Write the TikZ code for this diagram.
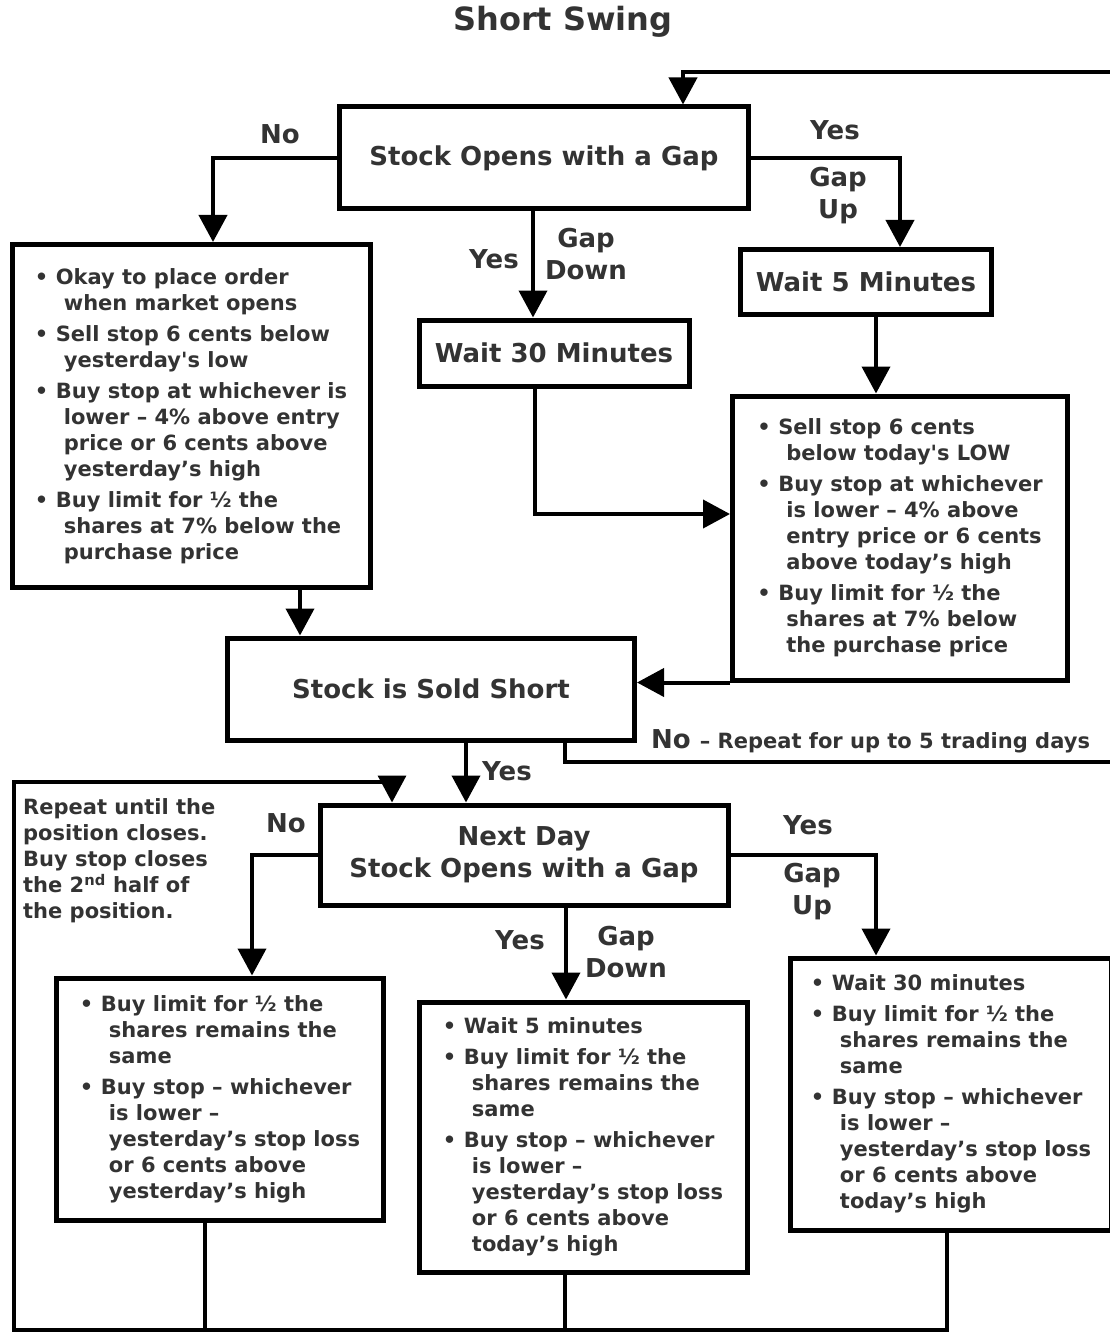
\documentclass[tikz,border=0pt]{standalone}
\usepackage{fontspec}
\setmainfont{DejaVu Sans}
\usepackage{xcolor}
\usetikzlibrary{arrows.meta,calc}

\definecolor{txtgray}{HTML}{333333}
\newcommand{\bpt}{\makebox[21pt][l]{\textbullet}}
\newcommand{\bcont}{\hspace*{29pt}}

\begin{document}
\begin{tikzpicture}[x=1pt,y=-1pt,
    every node/.style={text=txtgray, font=\bfseries},
    box/.style={draw=black, line width=5pt, inner sep=0pt, align=center,
      font=\fontsize{26}{32}\selectfont\bfseries},
    listbox/.style={draw=black, line width=5pt, inner sep=0pt, align=left,
      font=\fontsize{21}{26}\selectfont\bfseries},
    lbl/.style={align=center, font=\fontsize{26}{32}\selectfont\bfseries},
    arr/.style={line width=4pt, -{Triangle[length=27pt,width=28pt]}},
    con/.style={line width=4pt}]
    \useasboundingbox (0,0) rectangle (1109,1332);

    \node[font=\fontsize{32}{38}\selectfont\bfseries] (title) at (563,22) {Short Swing};

    % first day
    \node[box, minimum width=409pt, minimum height=102pt] (gap1) at (544,158) {Stock Opens with a Gap};
    \node[listbox, minimum width=358pt, minimum height=343pt] (nogap1) at (191,416)
      {\bpt Okay to place order\\ \bcont when market opens\\[5pt]
       \bpt Sell stop 6 cents below\\ \bcont yesterday\textquotesingle s low\\[5pt]
       \bpt Buy stop at whichever is\\ \bcont lower -- 4\% above entry\\
       \bcont price or 6 cents above\\ \bcont yesterday's high\\[5pt]
       \bpt Buy limit for ½ the\\ \bcont shares at 7\% below the\\ \bcont purchase price};
    \node[box, minimum width=270pt, minimum height=66pt] (wait30) at (554,353) {Wait 30 Minutes};
    \node[box, minimum width=251pt, minimum height=65pt] (wait5) at (866,282) {Wait 5 Minutes};
    \node[listbox, minimum width=335pt, minimum height=284pt] (upbox1) at (900,538)
      {\bpt Sell stop 6 cents\\ \bcont below today\textquotesingle s LOW\\[5pt]
       \bpt Buy stop at whichever\\ \bcont is lower -- 4\% above\\
       \bcont entry price or 6 cents\\ \bcont above today's high\\[5pt]
       \bpt Buy limit for ½ the\\ \bcont shares at 7\% below\\ \bcont the purchase price};
    \node[box, minimum width=407pt, minimum height=102pt] (sold) at (431,689) {Stock is Sold Short};

    % next day
    \node[box, minimum width=408pt, minimum height=100pt] (gap2) at (524,855) {Next Day\\Stock Opens with a Gap};
    \node[listbox, minimum width=327pt, minimum height=242pt] (nogap2) at (220,1099)
      {\bpt Buy limit for ½ the\\ \bcont shares remains the\\ \bcont same\\[5pt]
       \bpt Buy stop -- whichever\\ \bcont is lower --\\ \bcont yesterday's stop loss\\
       \bcont or 6 cents above\\ \bcont yesterday's high};
    \node[listbox, minimum width=328pt, minimum height=270pt] (down2) at (583,1137)
      {\bpt Wait 5 minutes\\[5pt]
       \bpt Buy limit for ½ the\\ \bcont shares remains the\\ \bcont same\\[5pt]
       \bpt Buy stop -- whichever\\ \bcont is lower --\\ \bcont yesterday's stop loss\\
       \bcont or 6 cents above\\ \bcont today's high};
    \node[listbox, minimum width=321pt, minimum height=272pt] (up2) at (951,1094)
      {\bpt Wait 30 minutes\\[5pt]
       \bpt Buy limit for ½ the\\ \bcont shares remains the\\ \bcont same\\[5pt]
       \bpt Buy stop -- whichever\\ \bcont is lower --\\ \bcont yesterday's stop loss\\
       \bcont or 6 cents above\\ \bcont today's high};

    \node[anchor=west, align=left, inner sep=0pt, font=\fontsize{21}{26}\selectfont\bfseries] (note) at (23,861)
      {Repeat until the\\position closes.\\Buy stop closes\\the 2\textsuperscript{nd} half of\\the position.};

    % labels
    \node[lbl] (no1) at (280,134) {No};
    \node[lbl] (yes1) at (835,130) {Yes};
    \node[lbl] (up1) at (838,196) {Gap\\Up};
    \node[lbl] (yes2) at (494,259) {Yes};
    \node[lbl] (dn1) at (586,254) {Gap\\Down};
    \node[lbl] (yes3) at (507,771) {Yes};
    \node[lbl] (no2) at (286,823) {No};
    \node[lbl] (yes4) at (808,825) {Yes};
    \node[lbl] (up2lbl) at (812,892) {Gap\\Up};
    \node[lbl] (yes5) at (520,940) {Yes};
    \node[lbl] (dn2) at (626,952) {Gap\\Down};
    \node[anchor=west, inner sep=0pt] (norepeat) at (651,741)
      {\fontsize{26}{32}\selectfont No \fontsize{21}{26}\selectfont -- Repeat for up to 5 trading days};

    \coordinate (topR) at (1112,72);
    \coordinate (noR) at (1112,762);
    \coordinate (loopBL) at (14,1330);
    \coordinate (loopTL) at (14,782);

    % connectors
    \draw[arr] (topR) -| ([xshift=139pt]gap1.north);
    \draw[arr] (gap1.west) -| ([xshift=22pt]nogap1.north);
    \draw[arr] (gap1.east) -| ([xshift=34pt]wait5.north);
    \draw[arr] ([xshift=-11pt]gap1.south) -- ([xshift=-11pt]gap1.south |- wait30.north);
    \draw[arr] ([xshift=-19pt]wait30.south) |- ([yshift=24pt]upbox1.west);
    \draw[arr] ([xshift=10pt]wait5.south) -- ([xshift=10pt]wait5.south |- upbox1.north);
    \draw[arr] (upbox1.south west) -- (upbox1.south west -| sold.east);
    \draw[arr] ([xshift=109pt]nogap1.south) -- ([xshift=109pt]nogap1.south |- sold.north);
    \draw[arr] ([xshift=35pt]sold.south) -- ([xshift=35pt]sold.south |- gap2.north);
    \draw[con] ([xshift=134pt]sold.south) |- (noR);
    \draw[arr] (gap2.west) -| ([xshift=32pt]nogap2.north);
    \draw[arr] (gap2.east) -| ([xshift=-75pt]up2.north);
    \draw[arr] ([xshift=42pt]gap2.south) -- ([xshift=42pt]gap2.south |- down2.north);

    % repeat loop
    \draw[arr, line width=3.5pt] ([xshift=-4pt]up2.south) |- (loopBL) -- (loopTL) -| ([xshift=-132pt]gap2.north);
    \foreach \b/\s in {nogap2/-15, down2/-18}
    {
      \draw[con, line width=3.5pt] ([xshift=\s pt]\b.south) -- ([xshift=\s pt]\b.south |- loopBL);
    }
\end{tikzpicture}
\end{document}
